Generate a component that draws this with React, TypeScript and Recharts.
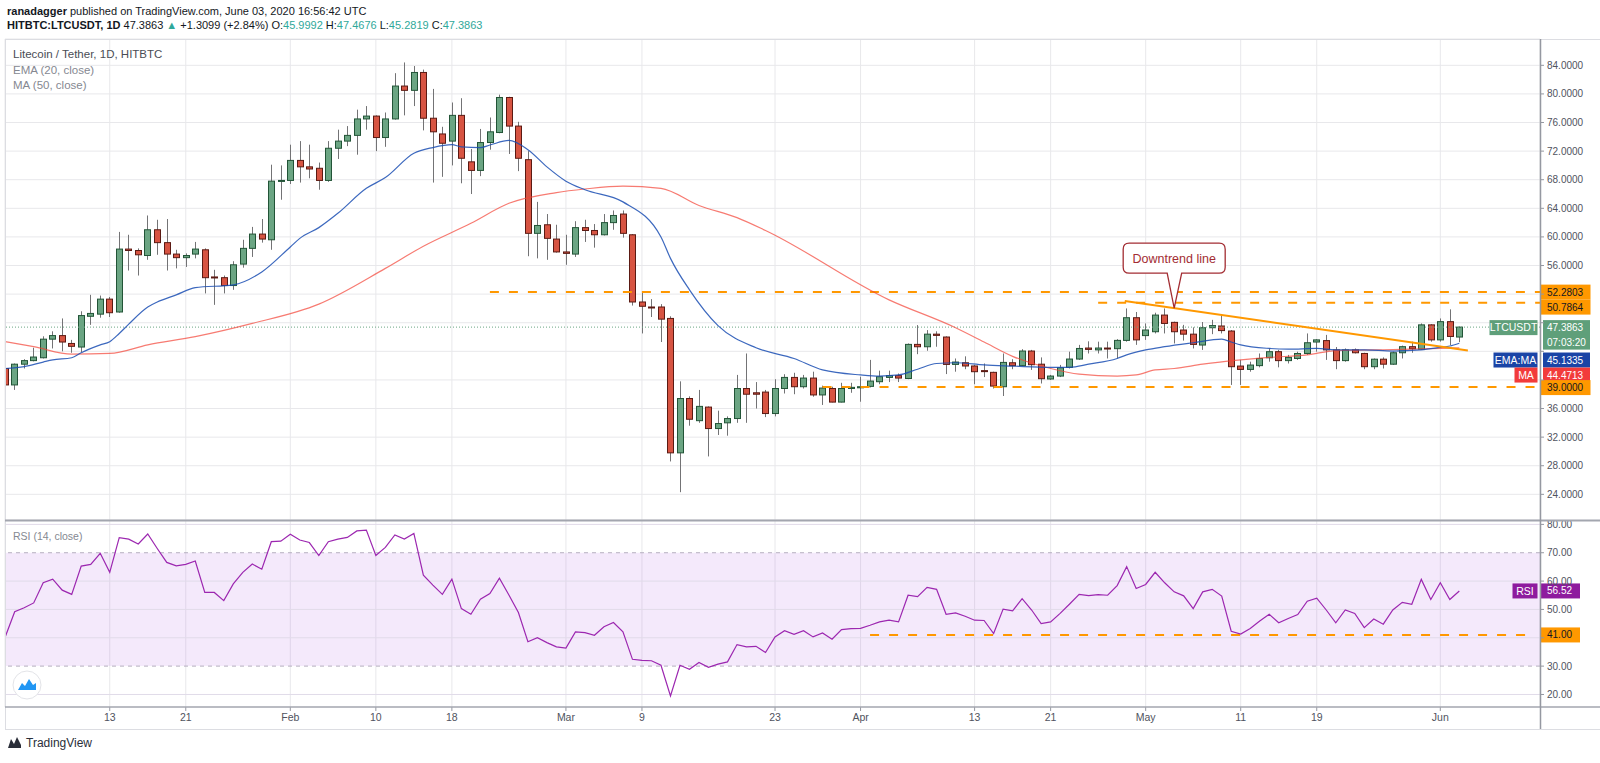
import React from 'react';
import {
  ComposedChart, Bar, Line, XAxis, YAxis, CartesianGrid,
  ReferenceLine, ReferenceArea, ReferenceDot,
} from 'recharts';

const FONT = '"Liberation Sans", Arial, sans-serif';

// Daily OHLC [open, high, low, close]; index 0 = 2 Jan 2020 ... index 153 = 3 Jun 2020
const candles: number[][] = [
  [41.6, 42.0, 38.9, 39.3], [39.3, 42.3, 38.6, 42.2], [42.2, 42.9, 41.6, 42.7], [42.7, 44.5, 42.6, 43.2],
  [43.1, 46.1, 43.0, 45.7], [45.7, 46.8, 44.4, 46.2], [46.2, 48.6, 44.0, 45.3], [45.1, 45.6, 43.8, 44.7],
  [44.6, 49.6, 43.9, 49.0], [48.9, 51.9, 47.7, 49.3], [49.2, 51.8, 48.7, 51.3], [51.3, 51.6, 48.8, 49.4],
  [49.5, 60.7, 49.4, 58.3], [58.3, 60.3, 55.3, 58.1], [58.1, 58.4, 54.6, 57.5], [57.4, 63.0, 56.8, 61.0],
  [61.0, 62.4, 57.5, 59.2], [59.2, 62.5, 55.3, 57.6], [57.6, 58.2, 55.6, 57.1], [57.1, 57.7, 55.8, 57.4],
  [57.6, 59.3, 57.0, 58.3], [58.2, 58.4, 52.1, 54.3], [54.4, 55.4, 50.5, 54.3], [54.3, 54.6, 52.1, 53.2],
  [53.2, 56.6, 52.6, 56.1], [56.2, 59.6, 55.7, 58.4], [58.4, 61.4, 57.2, 60.4], [60.4, 62.5, 59.2, 59.7],
  [59.6, 70.1, 58.2, 67.8], [67.8, 70.0, 65.2, 67.9], [67.9, 72.9, 67.4, 70.7], [70.7, 73.4, 67.6, 69.8],
  [69.8, 72.9, 68.2, 69.5], [69.6, 70.4, 66.6, 67.9], [67.9, 73.4, 67.7, 72.4], [72.4, 75.0, 70.9, 73.4],
  [73.4, 75.5, 72.7, 74.2], [74.2, 77.8, 71.5, 76.5], [76.5, 78.3, 75.0, 76.9], [76.9, 77.0, 72.0, 73.9],
  [73.9, 77.4, 72.6, 76.5], [76.5, 82.9, 76.4, 81.1], [81.1, 84.4, 77.0, 80.5], [80.5, 83.9, 78.3, 83.0],
  [83.0, 83.4, 74.9, 76.6], [76.6, 80.7, 67.6, 74.7], [74.4, 75.4, 68.4, 73.1], [73.4, 78.8, 70.0, 77.0],
  [77.0, 79.4, 67.5, 71.0], [70.5, 72.3, 66.0, 69.3], [69.3, 75.1, 68.5, 73.2], [73.2, 76.7, 72.2, 74.7],
  [74.6, 79.9, 74.5, 79.5], [79.5, 79.6, 71.6, 75.5], [75.5, 76.1, 69.2, 71.0], [70.8, 72.0, 57.3, 60.5],
  [60.5, 64.9, 57.0, 61.6], [61.7, 63.2, 56.8, 59.8], [59.7, 61.7, 57.8, 57.9], [57.9, 60.3, 56.1, 57.7],
  [57.6, 62.2, 57.2, 61.3], [61.3, 62.4, 59.3, 60.9], [60.9, 61.8, 58.5, 60.3], [60.3, 63.2, 60.2, 62.0],
  [62.0, 63.7, 61.0, 63.0], [63.2, 63.7, 59.9, 60.5], [60.3, 60.4, 50.4, 50.9], [50.9, 52.2, 46.5, 50.3],
  [50.2, 51.3, 48.8, 50.1], [50.2, 50.6, 45.3, 48.5], [48.6, 48.9, 28.6, 29.8], [29.8, 39.8, 24.3, 37.4],
  [37.4, 37.7, 33.6, 34.5], [34.3, 38.6, 34.0, 36.3], [36.2, 36.3, 29.3, 33.2], [33.2, 35.7, 32.3, 33.9],
  [34.0, 34.9, 32.2, 34.6], [34.6, 40.7, 34.0, 38.8], [38.8, 43.7, 34.0, 38.0], [38.2, 39.7, 36.0, 38.0],
  [38.3, 38.6, 34.8, 35.3], [35.3, 40.1, 34.9, 38.8], [38.8, 40.8, 38.1, 40.35], [40.35, 41.0, 38.0, 39.05],
  [39.05, 40.7, 38.8, 40.26], [40.26, 41.15, 37.65, 37.9], [37.9, 39.2, 36.5, 38.86], [38.8, 39.05, 36.86, 36.9],
  [36.9, 39.6, 36.85, 38.8], [38.8, 39.6, 38.2, 38.96], [38.9, 40.45, 36.95, 39.05], [39.1, 42.8, 38.95, 39.84],
  [39.75, 41.3, 39.4, 40.45], [40.35, 41.3, 39.7, 40.6], [40.6, 40.9, 39.7, 40.26], [40.2, 45.1, 40.1, 44.97],
  [44.97, 47.67, 43.6, 44.64], [44.64, 46.97, 44.08, 46.4], [46.4, 46.8, 44.64, 46.23], [46.0, 46.1, 40.82, 42.17],
  [42.17, 43.0, 41.15, 42.5], [42.4, 43.3, 41.5, 41.95], [41.95, 42.1, 39.4, 41.15], [41.3, 42.3, 40.4, 41.2],
  [41.06, 41.15, 38.8, 39.14], [39.05, 43.7, 37.75, 42.45], [42.4, 42.9, 41.5, 42.0], [42.0, 44.3, 41.95, 44.04],
  [44.04, 44.2, 41.4, 42.13], [42.2, 43.15, 39.5, 40.17], [40.13, 40.7, 40.0, 40.54], [40.54, 42.1, 40.4, 41.7],
  [41.76, 43.95, 41.6, 42.92], [42.92, 44.9, 42.8, 44.4], [44.46, 45.4, 43.7, 44.27], [44.2, 45.35, 43.7, 44.46],
  [44.46, 45.35, 43.0, 44.37], [44.37, 45.7, 43.0, 45.53], [45.53, 50.0, 45.35, 48.7], [48.7, 49.5, 44.9, 45.6],
  [46.2, 47.9, 45.6, 46.98], [46.74, 49.4, 46.5, 49.07], [49.07, 50.0, 46.5, 47.9], [48.05, 48.15, 45.1, 46.74],
  [46.98, 47.7, 45.5, 46.4], [46.4, 47.35, 44.4, 44.97], [44.88, 48.1, 44.2, 47.3], [47.3, 48.4, 46.4, 47.6],
  [47.54, 49.07, 46.5, 46.9], [46.84, 46.98, 39.3, 41.85], [41.94, 42.8, 39.3, 41.47], [41.47, 42.55, 41.15, 42.08],
  [42.0, 43.7, 41.76, 43.0], [43.1, 44.4, 42.55, 43.95], [43.95, 44.2, 41.76, 42.7], [42.7, 43.5, 42.3, 43.15],
  [43.0, 43.95, 42.8, 43.7], [43.7, 46.5, 43.5, 45.2], [45.3, 45.7, 43.95, 45.6], [45.5, 46.3, 42.8, 44.2],
  [44.2, 44.6, 41.5, 42.7], [42.7, 44.4, 42.55, 44.2], [44.2, 44.4, 43.7, 43.8], [43.7, 43.8, 41.5, 41.85],
  [41.85, 43.0, 41.5, 42.9], [42.9, 43.15, 41.6, 42.2], [42.2, 43.95, 42.1, 43.8], [43.8, 44.8, 43.0, 44.65],
  [44.65, 45.35, 43.8, 44.37], [44.3, 47.9, 44.2, 47.7], [47.7, 47.8, 45.35, 45.6], [45.6, 48.6, 45.35, 48.15],
  [48.15, 49.87, 44.88, 46.08], [45.9992, 47.4676, 45.2819, 47.3863],
];

// EMA(20): [day index, value]
const emaPoints: number[][] = [
  [0, 41.6], [2, 41.85], [4, 42.5], [5, 42.8], [7, 43.1], [8, 43.8], [10, 44.9], [11, 45.35], [12, 46.5],
  [13, 47.8], [15, 50.2], [16, 50.9], [18, 51.9], [20, 52.9], [24, 53.3], [27, 55.1], [30, 58.6], [31, 59.8],
  [33, 61.3], [35, 63.3], [38, 66.8], [40, 68.3], [43, 71.7], [45, 72.5], [47, 72.9], [48, 72.6], [50, 72.5],
  [51, 72.85], [53, 73.5], [55, 72.2], [57, 69.8], [59, 67.8], [61, 66.6], [65, 64.9], [69, 60.0], [70, 57.0],
  [72, 52.6], [75, 47.6], [79, 44.5], [83, 43.0], [86, 41.4], [90, 40.7], [92, 40.54], [94, 40.7], [96, 41.5],
  [98, 42.3], [100, 42.4], [103, 42.1], [106, 41.94], [110, 41.76], [112, 41.76], [114, 42.2], [117, 43.0],
  [118, 43.5], [120, 44.2], [122, 44.65], [125, 45.2], [128, 45.7], [129, 45.3], [130, 44.9], [133, 44.4],
  [135, 44.3], [138, 44.4], [140, 44.2], [143, 44.2], [146, 44.04], [149, 44.2], [151, 44.55], [152, 44.74],
  [153, 45.1335],
];

// MA(50): [day index, value]
const maPoints: number[][] = [
  [0, 45.35], [3, 44.65], [7, 43.6], [11, 43.7], [15, 44.9], [20, 46.05], [26, 47.9], [33, 50.6], [40, 55.6],
  [44, 58.7], [49, 61.9], [53, 64.7], [58, 66.2], [61, 66.7], [65, 67.1], [69, 66.8], [73, 64.4], [77, 62.7],
  [80, 60.9], [93, 51.2], [100, 47.3], [103, 45.3], [106, 43.3], [110, 41.6], [113, 40.8], [117, 40.54],
  [119, 40.7], [121, 41.4], [123, 41.6], [126, 42.2], [130, 42.8], [133, 43.15], [137, 43.5], [140, 44.1],
  [146, 44.25], [153, 44.4713],
];

// RSI(14), one value per day
const rsiValues: number[] = [
  40.3, 49.2, 50.6, 52.3, 59.4, 60.7, 56.8, 55.3, 65.3, 65.9,
  69.8, 63.1, 75.3, 74.8, 73.1, 76.6, 71.5, 66.6, 65.4, 65.9,
  67.1, 56.0, 56.0, 53.1, 59.0, 63.1, 66.0, 64.2, 73.9, 74.1,
  76.5, 74.5, 73.6, 69.0, 73.9, 74.8, 75.4, 77.7, 78.0, 69.0,
  71.9, 76.3, 74.8, 76.8, 62.1, 58.6, 55.3, 60.7, 50.3, 48.3,
  53.6, 55.6, 61.0, 55.1, 48.9, 38.6, 40.0, 38.3, 36.8, 36.4,
  42.1, 41.8, 40.9, 43.9, 45.4, 42.1, 32.4, 32.0, 31.9, 30.3,
  19.5, 30.3, 28.9, 31.3, 29.6, 30.7, 31.5, 37.6, 36.8, 37.0,
  34.8, 40.3, 42.5, 41.2, 42.5, 40.3, 41.7, 39.5, 42.9, 43.2,
  43.3, 44.4, 45.6, 46.2, 45.6, 55.0, 54.5, 57.8, 57.1, 48.3,
  48.8, 47.6, 46.2, 46.1, 41.5, 50.1, 49.5, 53.8, 49.8, 45.0,
  45.6, 48.6, 51.9, 55.3, 54.9, 55.2, 55.0, 58.4, 65.1, 57.4,
  58.8, 63.1, 59.4, 56.2, 54.8, 50.3, 56.2, 57.1, 54.7, 42.3,
  41.3, 43.3, 45.9, 48.3, 45.3, 46.8, 48.2, 52.9, 54.0, 49.8,
  45.3, 49.8, 48.6, 43.6, 46.6, 44.8, 49.8, 52.5, 51.8, 60.6,
  53.5, 59.4, 53.5, 56.52,
];

const dateTickIdx = [11, 19, 30, 39, 47, 59, 67, 81, 90, 102, 110, 120, 130, 138, 151];
const dateTickLabels = ['13', '21', 'Feb', '10', '18', 'Mar', '9', '23', 'Apr', '13', '21', 'May', '11', '19', 'Jun'];
const priceTicks = [24, 28, 32, 36, 40, 44, 48, 52, 56, 60, 64, 68, 72, 76, 80, 84];
const coveredPriceTicks = [40, 44, 48, 52];
const rsiTicks = [20, 30, 40, 50, 60, 70, 80];
const coveredRsiTicks = [40];
const rsiGrid = [20, 40, 50, 60, 80];

const lastClose = 47.3863;
const emaLast = 45.1335;
const maLast = 44.4713;
const rsiLast = 56.52;
const resistanceHigh = 52.2803;
const resistanceLow = 50.7864;
const support = 39.0;
const rsiSupport = 41;
const resistanceHighStart = 51;
const resistanceLowStart = 115;
const supportStart = 86;
const rsiSupportStart = 91;
const rsiSupportEnd = 160.4;
const trendStart = { x: 117.8, y: 51.03 };
const trendEnd = { x: 153.9, y: 44.1 };
const calloutAt = { x: 123, y: 50.03 };

const X_DOMAIN: [number, number] = [-0.02, 161.49];
const PRICE_DOMAIN: [number, number] = [20.41, 87.68];
const RSI_DOMAIN: [number, number] = [15.58, 81.55];

const emaMap = new Map(emaPoints.map(([i, v]) => [i, v] as [number, number]));
const maMap = new Map(maPoints.map(([i, v]) => [i, v] as [number, number]));
const priceData = candles.map(([o, h, l, c], i) => ({
  x: i, open: o, high: h, low: l, close: c, range: [l, h],
  ema: emaMap.has(i) ? emaMap.get(i) : null,
  ma: maMap.has(i) ? maMap.get(i) : null,
}));
const rsiData = rsiValues.map((v, i) => ({ x: i, rsi: v }));

const UP = '#6ba583', DOWN = '#d75442';
const ORANGE = '#ff9800';
const GRID = '#e8e8eb';
const AXIS = '#9598a1';
const LABEL = '#50535e';

const Candle = (props: any) => {
  const { x, y, width, height } = props;
  const d = props.payload ?? props;
  if (d == null || x == null || y == null) return <g />;
  const top0 = Math.min(y, y + height);
  const h = Math.abs(height);
  const { open, close, high, low } = d;
  const up = close >= open;
  const k = high > low ? h / (high - low) : 0;
  const yO = top0 + (high - open) * k;
  const yC = top0 + (high - close) * k;
  const bt = Math.min(yO, yC);
  const bh = Math.max(Math.abs(yC - yO), 1);
  const cx = Math.round(x + width / 2) + 0.5;
  return (
    <g>
      <line x1={cx} x2={cx} y1={top0} y2={top0 + h} stroke="#737375" strokeWidth={1} />
      <rect x={cx - 3} y={bt} width={6} height={bh}
        fill={up ? UP : DOWN} stroke={up ? '#225437' : '#5b1a13'} strokeWidth={1} />
    </g>
  );
};

type TagOpt = { text: string; name?: string; bg: string; fg: string; x0: number; w: number; nameW?: number; dy?: number };
const renderTag = (o: TagOpt) => (props: any) => {
  const vb = props.viewBox || {};
  const ax = (vb.x ?? 0) + (vb.width ?? 0);
  const cy = (vb.y ?? 0) + (o.dy ?? 0);
  const h = 15;
  const nw = o.nameW ?? 40;
  return (
    <g style={{ fontFamily: FONT }}>
      {o.name ? (
        <g>
          <rect x={ax - 2.5 - nw} y={cy - h / 2} width={nw} height={h} fill={o.bg} />
          <text x={ax - 2.5 - nw / 2} y={cy} dy="0.35em" textAnchor="middle" fontSize={10.5} fill={o.fg}>{o.name}</text>
        </g>
      ) : null}
      <rect x={ax + o.x0} y={cy - h / 2} width={o.w} height={h} fill={o.bg} />
      <text x={ax + 7} y={cy} dy="0.35em" fontSize={10} fill={o.fg}>{o.text}</text>
    </g>
  );
};

const Callout = (props: any) => {
  const { cx, cy } = props;
  if (cx == null || cy == null) return <g />;
  const L = cx - 51, R = cx + 51, T = cy - 65, B = cy - 35, r = 6;
  const d = `M${L + r},${T} H${R - r} Q${R},${T} ${R},${T + r} V${B - r} Q${R},${B} ${R - r},${B} H${cx + 7.5} L${cx},${cy} L${cx - 7},${B} H${L + r} Q${L},${B} ${L},${B - r} V${T + r} Q${L},${T} ${L + r},${T} Z`;
  return (
    <g>
      <path d={d} fill="#ffffff" stroke="#a32d33" strokeWidth={1.3} />
      <text x={cx} y={T + 15} dy="0.35em" textAnchor="middle" fontSize={12.5} fill="#a32d33" style={{ fontFamily: FONT }}>Downtrend line</text>
    </g>
  );
};

const PriceTick = (props: any) => {
  const { x, y, payload } = props;
  if (coveredPriceTicks.includes(payload.value)) return <g />;
  return <text x={x} y={y} dy="0.35em" fontSize={10} fill={LABEL} style={{ fontFamily: FONT }}>{payload.value.toFixed(4)}</text>;
};
const RsiTick = (props: any) => {
  const { x, y, payload } = props;
  if (coveredRsiTicks.includes(payload.value)) return <g />;
  return <text x={x} y={y} dy="0.35em" fontSize={10} fill={LABEL} style={{ fontFamily: FONT }}>{payload.value.toFixed(2)}</text>;
};

const abs = (s: React.CSSProperties): React.CSSProperties => ({ position: 'absolute', whiteSpace: 'nowrap', ...s });
const teal = '#2fa89a';

export default function App() {
  return (
    <div style={{ position: 'absolute', left: 0, top: 0, width: 1600, height: 763, background: '#ffffff', fontFamily: FONT, overflow: 'hidden' }}>
      {/* Main price pane */}
      <div style={{ position: 'absolute', left: 0, top: 0 }}>
        <ComposedChart width={1600} height={520} data={priceData} margin={{ top: 39, right: 0, bottom: 0, left: 5 }}>
          <CartesianGrid stroke={GRID} />
          <XAxis type="number" dataKey="x" domain={X_DOMAIN} allowDataOverflow ticks={dateTickIdx} interval={0} hide height={0} />
          <YAxis orientation="right" width={60} domain={PRICE_DOMAIN} allowDataOverflow ticks={priceTicks} interval={0}
            tick={<PriceTick />} tickSize={4} tickMargin={3} axisLine={false} tickLine={{ stroke: AXIS }} />
          <ReferenceLine y={lastClose} stroke="#6ba583" strokeDasharray="1 2" strokeWidth={1} />
          <ReferenceLine segment={[{ x: resistanceHighStart, y: resistanceHigh }, { x: X_DOMAIN[1], y: resistanceHigh }]}
            stroke={ORANGE} strokeWidth={2} strokeDasharray="9 10" />
          <ReferenceLine segment={[{ x: resistanceLowStart, y: resistanceLow }, { x: X_DOMAIN[1], y: resistanceLow }]}
            stroke={ORANGE} strokeWidth={2} strokeDasharray="9 10" />
          <ReferenceLine segment={[{ x: supportStart, y: support }, { x: X_DOMAIN[1], y: support }]}
            stroke={ORANGE} strokeWidth={2} strokeDasharray="9 10" />
          <Line dataKey="ma" type="monotone" connectNulls stroke="#f44336" strokeOpacity={0.7} strokeWidth={1.2} dot={false} activeDot={false} isAnimationActive={false} />
          <Line dataKey="ema" type="monotone" connectNulls stroke="#1a4db3" strokeOpacity={0.85} strokeWidth={1.2} dot={false} activeDot={false} isAnimationActive={false} />
          <Bar dataKey="range" barSize={7} shape={(p: any) => <Candle {...p} />} isAnimationActive={false} />
          <ReferenceLine segment={[trendStart, trendEnd]} stroke={ORANGE} strokeWidth={2} />
          <ReferenceDot x={calloutAt.x} y={calloutAt.y} r={0} shape={(p: any) => <Callout {...p} />} />
          <ReferenceLine y={resistanceHigh} stroke="none"
            label={renderTag({ text: '52.2803', bg: ORANGE, fg: '#131722', x0: 0.5, w: 50 })} />
          <ReferenceLine y={resistanceLow} stroke="none"
            label={renderTag({ text: '50.7864', bg: ORANGE, fg: '#131722', x0: 0.5, w: 50, dy: 4.3 })} />
          <ReferenceLine y={lastClose} stroke="none"
            label={renderTag({ text: '47.3863', name: 'LTCUSDT', nameW: 48, bg: '#5f9f7a', fg: '#ffffff', x0: 3, w: 47, dy: 0.5 })} />
          <ReferenceLine y={lastClose} stroke="none"
            label={renderTag({ text: '07:03:20', bg: '#5f9f7a', fg: '#ffffff', x0: 3, w: 47, dy: 15 })} />
          <ReferenceLine y={emaLast} stroke="none"
            label={renderTag({ text: '45.1335', name: 'EMA:MA', nameW: 44, bg: '#1a44a6', fg: '#ffffff', x0: 3, w: 47, dy: 16.8 })} />
          <ReferenceLine y={maLast} stroke="none"
            label={renderTag({ text: '44.4713', name: 'MA', nameW: 23, bg: '#f23b3b', fg: '#ffffff', x0: 3, w: 47, dy: 27.1 })} />
          <ReferenceLine y={support} stroke="none"
            label={renderTag({ text: '39.0000', bg: ORANGE, fg: '#131722', x0: 0.5, w: 50, dy: 0.5 })} />
        </ComposedChart>
      </div>

      {/* RSI pane */}
      <div style={{ position: 'absolute', left: 0, top: 520 }}>
        <ComposedChart width={1600} height={211} data={rsiData} margin={{ top: 0, right: 0, bottom: 0, left: 5 }}>
          <ReferenceArea y1={30} y2={70} fill="#b36ae2" fillOpacity={0.15} stroke="none" />
          <CartesianGrid stroke={GRID} horizontal={false} />
          <XAxis type="number" dataKey="x" domain={X_DOMAIN} allowDataOverflow ticks={dateTickIdx} interval={0}
            tickFormatter={(v: number) => dateTickLabels[dateTickIdx.indexOf(v)] ?? ''}
            height={24} tickSize={4} tickMargin={3} axisLine={false} tickLine={{ stroke: AXIS }}
            tick={{ fontSize: 10.5, fill: LABEL }} />
          <YAxis orientation="right" width={60} domain={RSI_DOMAIN} allowDataOverflow ticks={rsiTicks} interval={0}
            tick={<RsiTick />} tickSize={4} tickMargin={3} axisLine={false} tickLine={{ stroke: AXIS }} />
          {rsiGrid.map((g) => (
            <ReferenceLine key={g} y={g} stroke="#e1dbe9" strokeWidth={1} />
          ))}
          <ReferenceLine y={70} stroke="#b5afbf" strokeDasharray="4 4" strokeWidth={1} />
          <ReferenceLine y={30} stroke="#b5afbf" strokeDasharray="4 4" strokeWidth={1} />
          <ReferenceLine segment={[{ x: rsiSupportStart, y: rsiSupport }, { x: rsiSupportEnd, y: rsiSupport }]}
            stroke={ORANGE} strokeWidth={2} strokeDasharray="9 10" />
          <Line dataKey="rsi" type="linear" stroke="#9c27b0" strokeWidth={1.2} dot={false} activeDot={false} isAnimationActive={false} />
          <ReferenceLine y={rsiSupport} stroke="none"
            label={renderTag({ text: '41.00', bg: ORANGE, fg: '#131722', x0: 0, w: 40 })} />
          <ReferenceLine y={rsiLast} stroke="none"
            label={renderTag({ text: '56.52', name: 'RSI', nameW: 25, bg: '#8e1b9e', fg: '#ffffff', x0: 1, w: 39 })} />
        </ComposedChart>
      </div>

      {/* frame and separators */}
      <svg width={1600} height={763} style={{ position: 'absolute', left: 0, top: 0, pointerEvents: 'none' }}>
        <line x1={5} x2={1600} y1={39.5} y2={39.5} stroke="#dcdde2" strokeWidth={1} />
        <line x1={5.5} x2={5.5} y1={39} y2={729} stroke="#dcdde2" strokeWidth={1} />
        <line x1={5} x2={1600} y1={729.5} y2={729.5} stroke="#dcdde2" strokeWidth={1} />
        <line x1={5} x2={1600} y1={520.5} y2={520.5} stroke="#a3a6af" strokeWidth={2} />
        <line x1={5} x2={1600} y1={707} y2={707} stroke="#a3a6af" strokeWidth={1.5} />
        <line x1={1540.5} x2={1540.5} y1={39} y2={729} stroke={AXIS} strokeWidth={1.5} />
        {/* RSI pane watermark */}
        <circle cx={27} cy={685} r={14} fill="#ffffff" stroke="#e3e4e8" strokeWidth={1} />
        <path d="M18,690 L22,683 L25,686 L29,679 L33,685 L36,683 L36,690 Z" fill="#2196f3" />
        {/* bottom logo */}
        <path d="M8,748 L11,739 L14,744 L17,737 L21,745 L21,748 Z" fill="#2a2e39" />
      </svg>

      {/* header */}
      <div style={abs({ left: 7, top: 4, fontSize: 11, lineHeight: '15px', color: '#131722' })}>
        <b>ranadagger</b> published on TradingView.com, June 03, 2020 16:56:42 UTC
      </div>
      <div style={abs({ left: 7, top: 17.5, fontSize: 11, lineHeight: '15px', color: '#131722' })}>
        <b>HITBTC:LTCUSDT, 1D</b> 47.3863 <span style={{ color: teal }}>▲</span> +1.3099 (+2.84%) O:<span style={{ color: teal }}>45.9992</span> H:<span style={{ color: teal }}>47.4676</span> L:<span style={{ color: teal }}>45.2819</span> C:<span style={{ color: teal }}>47.3863</span>
      </div>

      {/* pane legends */}
      <div style={abs({ left: 13, top: 46.5, fontSize: 11.5, lineHeight: '15px', color: '#4a4d55' })}>Litecoin / Tether, 1D, HITBTC</div>
      <div style={abs({ left: 13, top: 62.5, fontSize: 11.5, lineHeight: '15px', color: '#858891' })}>EMA (20, close)</div>
      <div style={abs({ left: 13, top: 77.5, fontSize: 11.5, lineHeight: '15px', color: '#858891' })}>MA (50, close)</div>
      <div style={abs({ left: 13, top: 528.5, fontSize: 10.5, lineHeight: '15px', color: '#858891' })}>RSI (14, close)</div>

      <div style={abs({ left: 26, top: 736, fontSize: 12, lineHeight: '15px', color: '#2a2e39' })}>TradingView</div>
    </div>
  );
}
